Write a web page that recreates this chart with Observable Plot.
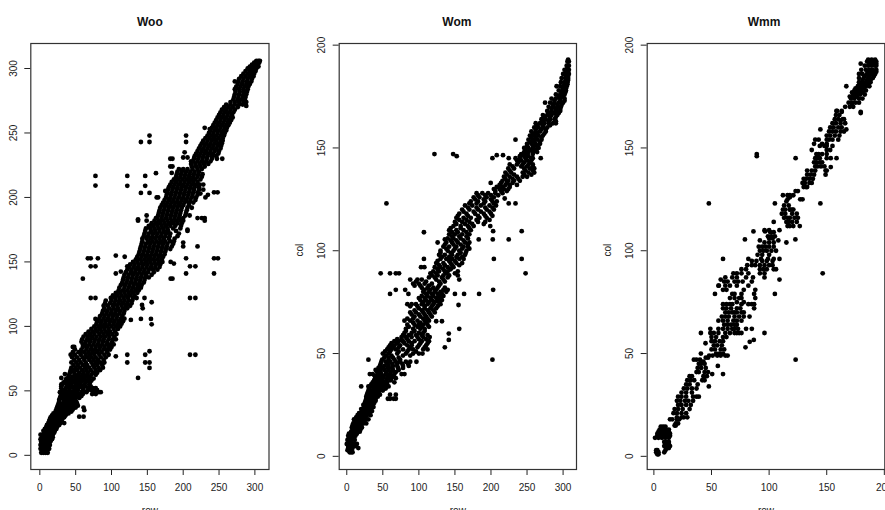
<!DOCTYPE html>
<html><head><meta charset="utf-8">
<script src="https://cdn.jsdelivr.net/npm/d3@7"></script>
<script src="https://cdn.jsdelivr.net/npm/@observablehq/plot@0.6"></script>
<style>html,body{margin:0;padding:0;background:#fff;width:885px;height:510px;overflow:hidden}
#root{position:relative;width:885px;height:510px;overflow:hidden}
#root svg{position:absolute;top:0;overflow:visible;max-width:none}</style>
</head><body><div id="root"></div>
<script>
const wooBand=[[2,[2,5,8,11]],[5,[1,4,7,10,13]],[8,[1,3,6,9,12,14]],[11,[2,5,8,11,15]],[14,[3,6,9,12,16,18]],[16,[1,5,8,11,14,18]],[19,[5,8,11,15,18,21]],[22,[9,12,15,18,21,24]],[25,[12,15,19,22,25,29,34]],[28,[14,18,21,24,27,31]],[31,[17,20,24,28,32,36]],[34,[22,25,29,33,37,44]],
[37,[24,29,34,39,44,50]],[40,[26,31,36,41,46,52]],[43,[27,33,38,44,49]],[46,[29,34,40,46,52,58]],[49,[28,33,39,45,51,58,65,76,82,85]],[52,[30,36,42,48,54,60,68,74,78]],[55,[31,37,43,50,56,62,69]],[58,[36,42,48,54,60,66,72]],[61,[40,46,52,58,64,70]],[64,[42,48,55,61,67,74,80]],[68,[44,50,56,63,69,76,82,88]],[72,[44,51,57,64,72,78,84,90]],[76,[45,52,60,66,72,78,85,92]],[80,[46,54,62,68,74,80,86,94]],[84,[46,60,66,72,78,84,90,96,100]],[88,[58,64,70,76,82,88,94,101]],[92,[61,67,73,79,85,91,97,104]],[96,[68,74,80,86,92,98,105]],[100,[76,82,88,94,100,106,112]],[104,[80,86,92,98,104,110,116]],[108,[84,90,96,102,108,115]],[112,[88,94,100,106,112,118]],[116,[89,95,102,108,114,120,126]],[120,[92,100,106,112,118,124,129]],[124,[102,108,114,120,126,132]],[128,[110,116,122,128,134,138]],[132,[113,119,125,131,137,142]],[136,[116,122,128,134,140,146]],[140,[118,124,130,136,142,148,156]],[144,[122,128,134,140,146,152,158,164]],[148,[126,132,138,144,150,156,162,168]],[152,[134,140,146,152,158,164,170]],[156,[138,144,150,156,162,168,174]],[160,[140,146,152,158,164,170,176,182]],[164,[142,148,154,160,166,172,178,186]],[168,[143,149,155,161,167,173,180,188]],[172,[146,152,158,164,170,176,182,194]],[176,[148,154,160,166,172,178,186,196]],[180,[156,162,168,174,180,186,192,198]],[184,[164,170,176,182,188,194,200]],[188,[166,172,178,184,190,196,204]],[192,[168,174,180,186,192,198,206,212]],[196,[172,178,184,190,196,202,208,214]],[200,[176,182,188,194,200,206,212,218]],[204,[178,184,190,196,202,208,214,220]],[208,[180,186,192,198,204,210,216,222]],[212,[184,190,196,202,208,214,220]],[216,[190,196,202,208,214,220,226]],[220,[192,198,204,210,216,222]],[224,[212,218,224,230]],[228,[214,220,226,232,238]],[232,[216,222,228,234,240,246]],[236,[220,226,232,238,244,250]],[240,[224,230,236,242,248,253]],[244,[228,234,240,246,252,255]],[248,[234,240,246,252,257]],[252,[238,244,250,256,260]],[256,[242,248,254,260,263]],[260,[246,252,258,264,267]],[264,[250,256,262,268]],[268,[254,260,266,272]],[272,[260,266,272,278,283]],[276,[270,276,282,286]],[280,[272,278,284,288]],[284,[272,278,284,290]],[288,[276,282,288,293]],[292,[278,284,290,296]],[296,[284,290,296,299]],[300,[290,295,300,302]],[303,[296,300,304]],[306,[302,305,307]]];
const wooFill=[[3.5,[3,6,10]],[6.5,[2,5,9,12]],[9.5,[2,4,7,10,13]],[12.5,[1,4,7,10,14,17]],[17.5,[6,10,13,16,20]],[20.5,[7,10,13,17,20,23]],[23.5,[10,14,17,20,23,27]],[26.5,[13,17,20,23,26,30]],[29.5,[15,19,22,26,30,34]],[32.5,[19,23,26,31,35,40]],[35.5,[23,27,31,36,41,46]],[38.5,[25,30,35,41,47,53]],[41.5,[27,34,39,43,48,51]],[44.5,[28,32,37,43,50,55]],[47.5,[30,36,43,48,55,60,73,78]],[50.5,[31,35,41,48,53,61,67,72,80]],[53.5,[30,39,45,51,58,64,71]],[56.5,[33,40,46,52,57,64,70]],[59.5,[37,44,50,56,62,68,75]],[62.5,[41,49,54,60,66,72,78]],[66,[43,47,52,59,65,71,78,84]],[70,[47,53,60,66,74,80,87]],[74,[48,55,62,69,75,81,89]],[78,[43,49,57,64,70,76,83,90,96]],[82,[49,58,65,71,77,83,89,93,98]],[86,[60,63,69,75,81,87,93,98,103]],[90,[59,66,71,77,83,89,96,102,106]],[94,[64,70,76,83,89,95,101,107]],[98,[72,78,84,90,96,103,109]],[102,[79,85,91,97,103,109,114]],[106,[83,89,95,101,107,113,118]],[110,[87,93,99,105,111,117]],[114,[90,97,103,109,116,122]],[118,[91,98,104,110,116,122,128]],[122,[99,105,111,117,123,130,135]],[126,[106,112,118,124,130,136]],[130,[111,118,124,130,136,141]],[134,[115,121,127,133,139,145]],[138,[117,123,129,135,141,147,152]],[142,[120,127,133,139,145,151,159]],[146,[125,131,137,143,149,155,161,167]],[150,[130,136,142,148,154,160,166,171]],[154,[136,142,148,154,160,166,172]],[158,[139,145,151,157,163,169,175]],[162,[141,147,153,159,165,171,177,184]],[166,[143,151,157,163,169,175,182,187]],[170,[145,151,157,163,169,175,181,192]],[174,[147,155,161,167,173,179,190]],[178,[152,158,164,170,176,182,189,197]],[182,[160,166,172,178,184,190,196,200]],[186,[165,171,177,183,189,195,203,209]],[190,[167,173,179,185,191,197,205]],[194,[170,176,182,188,194,200,208]],[198,[174,180,186,192,198,204,210,217]],[202,[177,183,189,195,201,207,213,220]],[206,[179,185,191,197,203,209,215,222]],[210,[182,188,194,200,206,212,218,223]],[214,[187,193,199,205,211,217,224]],[218,[191,197,203,209,215,221,227]],[222,[194,200,206,213,220,226]],[226,[211,217,223,229,235]],[230,[215,221,227,233,240,247]],[234,[218,224,230,236,242,249]],[238,[222,228,234,240,246,252]],[242,[226,232,238,244,250,254]],[246,[231,237,243,249,255]],[250,[236,242,248,254,258]],[254,[240,246,252,258,261]],[258,[244,250,256,262,265]],[262,[248,254,260,266,269]],[266,[252,258,264,270]],[270,[257,263,269,276]],[274,[266,272,278,284,288]],[278,[271,277,283,287]],[282,[273,279,285,289]],[286,[274,280,286,291]],[290,[277,283,289,295]],[294,[281,287,293,298]],[298,[287,293,298,301]],[301.5,[293,298,303,305]],[304.5,[299,303,306]]];
const wooOutliers=[[77.6,216.7],[77.6,209.2],[122,216.7],[122,209],[147,216.7],[147,209],[141,203.5],[153,203.5],[162,218.8],[141,243],[153,243],[153,248],[204,248],[204,243],[202,235],[200,231],[206,231],[211,228],[182,230],[185,230],[182,224],[185,224],[184,219],[175,205],[163,200],[165,200],[137,183],[137,182],[149,186],[149,182],[162,184],[220,162],[200,165],[200,162],[206,175],[206,174],[220,184],[226,184],[230,184],[230,182],[243,204],[248,204],[231,200],[234.5,202],[228,206],[224,203],[228,210],[254.5,230],[230,254],[237,253],[288,271],[272,290],[60,137],[71,122],[77.6,122],[71,146.6],[77.6,146.6],[67,152.8],[71,152.8],[81,152.8],[77.6,105.8],[106,141],[113,142.5],[122,146.6],[106,154.9],[118.4,154],[106,76.8],[122,78],[122,72],[137,60],[147,78],[153,80.7],[147,72],[153,72],[153,67.8],[209.5,78],[217,78],[141,105.8],[127,105],[155,105.8],[156,101.6],[156,118.7],[142.6,116.6],[143.5,114],[146,122],[209.5,122],[217,122],[209.5,146.6],[217,146.6],[204,152.8],[204,141],[243,141],[243,152.8],[248.5,152.8],[182.5,137],[185,137],[182.5,150],[187,148.7],[30,60],[35,63],[30,55],[57,80],[48,84],[61,37],[62,35],[61,30],[55,30]];
const womBand=[[2,[4,6,8]],[4,[2,5,8,16]],[6,[0,3,6,9,14]],[8,[1,4,7,11]],[10,[2,5,8,12]],[12,[6,9,12,15,18]],[14,[7,10,13,17,21]],[16,[9,12,15,19,23,27]],[18,[10,13,17,21,26,30]],[20,[15,19,23,28,33]],[22,[21,25,29,35]],[24,[24,28,32,37]],[26,[25,29,33,38]],[28,[27,31,36,40,57,60,65,68]],[30,[28,32,37,42,46,60,68]],[32,[30,35,40,45,50]],[34,[33,38,43,47,52,58]],[36,[36,41,46,52,56,66]],[38,[40,46,50,56,62,68]],[40,[43,48,54,60,66,76,80]],[42,[40,46,52,58,64,72]],[44,[46,52,58,64,70,78,86]],[46,[48,54,60,68,74,82,88]],[48,[52,58,64,72]],[50,[50,58,70,82,92,100,105]],[52,[56,62,68,78,86,92,106,112]],[54,[60,66,74,84,90,100,110]],[56,[66,72,78,86,94,104,114]],[58,[76,82,90,98,106]],[60,[80,90,100,106]],[62,[82,92,102,108]],[64,[84,94,100,106,112]],[66,[80,88,98,108,114]],[68,[94,102,110,118]],[70,[88,96,106,114,122]],[72,[100,108,116,124]],[74,[84,90,96,104,112,120,130]],[76,[102,110,118,126,132]],[78,[104,112,120,128,134]],[80,[106,114,122,130,138]],[82,[104,112,120,126,136]],[84,[92,100,108,118,130]],[86,[88,98,104,124,134,156]],[88,[118,126,134,142,154]],[90,[120,128,136,140,154]],[92,[122,130,140,148]],[94,[124,134,144,152,160]],[96,[130,138,146,156,162]],[98,[128,136,146,154,164]],[100,[130,140,148,156,166]],[102,[134,142,152,162,168]],[104,[138,146,154,164,170]],[106,[140,148,158,168]],[108,[142,150,160,170]],[110,[142,152,162,172]],[112,[148,158,168,176]],[114,[150,160,170,182,192]],[116,[152,162,172,184,194]],[118,[156,166,178,190,200]],[120,[160,170,182,194,204]],[122,[164,174,186,198,207]],[124,[172,182,192,202,208]],[126,[176,184,194,204]],[128,[180,188,196,206,216]],[130,[204,212,218,224]],[132,[212,220,226,236]],[134,[216,224,232,240]],[136,[218,226,236,244,250]],[138,[220,228,244,252,260]],[140,[224,232,246,254,260]],[142,[226,236,244,252,258]],[144,[236,242,250,256]],[146,[240,246,252]],[148,[246,252,258,264]],[150,[246,252,258,266]],[152,[250,256,262,268]],[154,[252,258,264,270]],[156,[254,260,266,272]],[158,[256,262,268,276]],[160,[260,266,272,278]],[162,[262,268,274,280,286]],[164,[270,276,282,288]],[166,[272,278,284,292]],[168,[278,284,290,296]],[170,[280,286,292,297]],[172,[282,288,294,300]],[174,[284,290,296,302]],[176,[290,296,302]],[178,[294,299,304]],[180,[296,301,305]],[182,[297,302,306]],[184,[298,303,307]],[186,[300,304,308]],[188,[302,306,308]],[190,[305,308]],[192,[306,308]],[193,[307]]];
const womFill=[[3,[1,3,6]],[5,[2,5,7,12]],[9,[3,6,10]],[11,[3,6,10,14]],[13,[8,11,15,19]],[15,[8,12,16,20]],[17,[11,15,20,24]],[19,[13,17,22,26]],[21,[17,22,26,31]],[23,[20,24,29,33]],[25,[23,27,31,36]],[27,[26,30,34,40]],[29,[27,33,38,43]],[31,[29,34,39,44]],[33,[31,37,42,48,54]],[35,[34,40,44,50,56]],[37,[38,44,49,55,61]],[39,[39,44,51,58,64]],[41,[42,47,55,61,68]],[43,[44,50,57,63,71,78]],[45,[47,56,63,70,77,85]],[47,[49,58,66,74]],[49,[54,62,78,88]],[51,[53,60,72,84,96]],[53,[58,64,72,88,98,108]],[55,[62,70,80,90,102,112]],[57,[70,76,84,100,110]],[59,[78,86,96,104,112]],[61,[82,94,108]],[63,[86,98,104,114]],[65,[92,102,110]],[67,[84,92,106,112]],[69,[90,100,108,116]],[71,[94,104,112,120]],[73,[88,98,108,118,126]],[75,[106,114,122,128]],[77,[100,108,116,124,130]],[79,[110,118,126,132]],[81,[108,116,124,134,140]],[83,[94,102,114,128]],[85,[96,110,128,136]],[87,[114,122,132,140]],[89,[116,124,138,150]],[91,[126,134,144]],[93,[128,136,146,156]],[95,[126,142,150]],[97,[132,142,152,160]],[99,[130,144,158,165]],[101,[138,150,160,170]],[103,[136,148,158,168]],[105,[144,152,162]],[107,[146,156,166]],[109,[146,154,166]],[111,[144,158,170]],[113,[152,164,174,190]],[115,[156,166,180,198]],[117,[154,168,182,192,202]],[119,[162,176,186,198]],[121,[168,180,192,202]],[123,[170,180,190,204]],[125,[178,190,200]],[127,[182,192,200,210]],[129,[206,214,222]],[131,[208,216,226]],[133,[214,222,230]],[135,[220,230,238]],[137,[222,232,246,256]],[139,[226,248,258]],[141,[230,242,250,258]],[143,[238,246,254]],[145,[240,248,256]],[147,[242,250,258]],[149,[248,256,262]],[151,[250,260,264]],[153,[254,260,268]],[155,[256,262,270]],[157,[258,264,274]],[159,[262,270,276]],[161,[264,272,282]],[163,[272,280,290]],[165,[274,282,290]],[167,[280,288,294]],[169,[284,290,296]],[171,[286,292,298]],[173,[288,296,302]],[175,[294,300]],[177,[298,303]],[179,[300,304]],[181,[302,306]],[183,[304,307]],[185,[304,307]],[187,[304,307]],[189,[306]]];
const womOutliers=[[55,123],[121.6,147],[147.5,147],[152.5,146],[107,109],[126,104],[136,105.5],[183,105.5],[202.5,105.5],[224.6,105.5],[242.6,109.5],[203,109.5],[199,112],[224.6,123],[234,123],[219,125.4],[199.6,133],[202,145],[208,146.5],[216.7,146.5],[224.6,145],[234,145],[234,154],[258,145],[269,145],[275,172],[291,180],[290,162],[47,89],[60,89],[68,89],[72.5,89],[60,79],[68,81],[81,81],[85.5,79],[103,92],[107.6,92],[107,96],[30,47],[20,34],[30,34],[32,40],[36,40],[96.6,46],[136,53],[141.5,56.6],[141.5,59.7],[156,62],[155,73.6],[124,65.7],[132,65.7],[115,58],[183.5,79],[162.7,79],[150,79],[203,81],[202,47],[242.6,96],[248,89],[204,96]];
const wmmBand=[[1,[3,4]],[2,[2,4,9]],[3,[2,3,10]],[4,[11,13]],[5,[9,12,14]],[6,[10,13]],[7,[9,11,13]],[9,[1,4,7,10,13]],[10,[3,6,9,12,14]],[11,[3,5,8,11,14]],[12,[4,7,10,13]],[13,[5,8,11,13]],[14.5,[6,8,10]],[15,[18,19]],[16,[19,21]],[18,[14,16,20,22]],[19,[20,24,26,29]],[21,[17,20,24,28]],[23,[18,21,25,31]],[25,[21,24,28,32]],[27,[20,23,27,30,34]],[29,[21,24,28,34,37,39]],[31,[24,28,33]],[33,[26,29,33,37]],[35,[28,31,38]],[37,[29,32,35,42,44]],[39,[31,33,43,46]],[41,[37,39,44,47]],[43,[38,41,45]],[45,[39,41,44]],[46,[41,43]],[49,[48,51,55,58,62,64]],[50,[54,57,60]],[52,[50,53,58,61]],[54,[52,55,59]],[56,[50,53,57,60]],[58,[50,54,60,63]],[60,[49,52,56,62,66,70,72,74,76]],[62,[49,56,60,64,68,70,73,80,85]],[64,[61,64,67,70,72]],[66,[56,60,64,69,72,76]],[68,[59,62,65,70,74,78,83]],[70,[62,68,72,76,78]],[72,[60,63,67,72,75,87]],[74,[60,63,66,68,76,82,85,87]],[77,[66,70,74,76,88]],[79,[68,70,76,87]],[81,[60,63,78,88]],[83,[56,62,66,72,82]],[85,[61,64,70,73,77,85]],[87,[62,68,72,80,86,96]],[89,[69,72,76,82,92,96]],[91,[76,80,92,95,98,104,106]],[93,[81,85,88,92,96,100,103]],[95,[85,89,94,98,103]],[96,[82,93,99,104]],[98,[90,94,100]],[100,[92,95,98,102,106]],[102,[91,94,97,100,104]],[104,[96,100,104]],[106,[100,103]],[107,[99,102,105]],[109,[101,104]],[112,[116,118,121]],[114,[115,117,120,124]],[116,[113,116,118,122,125]],[118,[111,114,120,124]],[120,[112,114,118,121]],[122,[113,117]],[125,[116,127,129]],[127,[112,116,118,121]],[129,[123,125]],[131,[130,132,133]],[133,[129,131,135,137]],[135,[130,132,135,138]],[137,[133,136,139,149]],[139,[133,137,140,149,150]],[141,[140,142,145,148]],[143,[139,141,144,146]],[145,[140,142,144,150]],[147,[141,143]],[149,[137,150,153]],[151,[144,148,150,155]],[154,[140,143,150,152,155,160]],[156,[150,153,157,161]],[158,[152,155,158,162,165]],[160,[153,156,160,163]],[162,[155,158,162,166]],[164,[157,160,164]],[166,[158,161]],[170,[166,170,173]],[172,[169,172,175,178]],[174,[171,174,178,181]],[176,[173,176,179,183]],[178,[174,177,180,184]],[180,[177,181,184,187]],[182,[178,181,184,187,188]],[184,[178,182,186,190]],[186,[178,181,185,189,192]],[188,[180,184,187,190,193]],[190,[183,186,189,192,193]],[192,[185,188,190,193]],[193,[186,189,192]]];
const wmmFill=[[168,[159,163]],[167.5,[163]],[171.5,[172]],[164,[165]],[163.4,[162]],[147,[146,150]],[152,[139,146,150]],[110,[96,100,109]],[114,[104]],[120,[120,118]],[124,[115]],[126,[118]],[105,[92,108]],[75,[72,78]],[70,[65,70]],[47,[37,40]],[48,[45,47]],[187,[186,188,190,192,193]],[191,[187,190,193]],[185,[183,187,191]],[183,[181,185,188]],[181,[179,183,186]],[179,[175,179,182]],[177,[172,175,178,181]],[175,[170,173,176]]];
const wmmOutliers=[[47.7,123],[89.3,147],[89.3,146],[123,145],[144.5,123],[105,123],[79,105.5],[86.4,109.4],[96.5,109.4],[122.8,105.5],[115,104],[126.6,112],[167,180],[179.5,191],[179.5,167.5],[179.5,167],[153.5,145],[158.5,145],[153.5,140.7],[144.5,159],[158.4,168],[167,159],[146.5,89],[123,47],[60,96],[109,96],[109,86],[105,79],[96,60],[86.7,56.6],[83.2,55.7],[79.5,53],[60,40],[55.5,44],[47.7,34],[50.6,40],[40.8,60],[40.8,50],[34.7,47],[44.8,55],[53,79],[56.4,83],[58,86]];
const xTicksLong=[0,50,100,150,200,250,300];
const xTicksShort=[0,50,100,150,200];
const yTicksLong=[0,50,100,150,200,250,300];
const yTicksShort=[0,50,100,150,200];
const axisFont="Liberation Sans, Arial, sans-serif";
const expand=(...bands)=>bands.flatMap(band=>band.flatMap(([y,xs])=>xs.map(x=>[x,y])));
function panel(o){
  const svg=Plot.plot({
    width:o.width,height:510,
    marginLeft:o.left,marginRight:o.right,marginTop:43,marginBottom:41,
    style:{fontFamily:axisFont,fontSize:"10px",background:"transparent"},
    x:{domain:o.xd,axis:null},y:{domain:o.yd,axis:null},
    marks:[
      Plot.axisX({ticks:o.xt,tickSize:6,tickPadding:8,label:null,fontSize:10,color:"#222"}),
      Plot.axisY({ticks:o.yt,tickSize:6,tickPadding:8,tickRotate:-90,label:null,fontSize:10,color:"#222",textAnchor:"middle"}),
      Plot.frame({stroke:"#333",strokeWidth:1.2}),
      Plot.dot(o.pts,{x:d=>d[0],y:d=>d[1],r:2.4,fill:"black"}),
      Plot.text([o.title],{frameAnchor:"top",dx:o.tdx,dy:-26,fontWeight:"bold",fontSize:12,fill:"#111"}),
      Plot.text(["row"],{frameAnchor:"bottom",dy:44,fontSize:10,fill:"#222"}),
      o.ylab?Plot.text(["col"],{frameAnchor:"left",dx:-39,rotate:-90,fontSize:10,fill:"#222"}):null
    ]
  });
  svg.style.left=o.x+"px";
  document.getElementById("root").appendChild(svg);
}
panel({title:"Woo",x:0,width:290,left:30.3,right:21.5,tdx:0,xd:[-12.6,319.7],yd:[-11,319.4],xt:xTicksLong,yt:yTicksLong,pts:expand(wooBand,wooFill).concat(wooOutliers),ylab:false});
panel({title:"Wom",x:290,width:295,left:48.7,right:9,tdx:-1,xd:[-10.5,318.6],yd:[-6.4,200.8],xt:xTicksLong,yt:yTicksShort,pts:expand(womBand,womFill).concat(womOutliers),ylab:true});
panel({title:"Wmm",x:590,width:310,left:56.7,right:15.7,tdx:-2,xd:[-5.8,200.4],yd:[-6.4,200.8],xt:xTicksShort,yt:yTicksShort,pts:expand(wmmBand,wmmFill).concat(wmmOutliers),ylab:true});
</script></body></html>
